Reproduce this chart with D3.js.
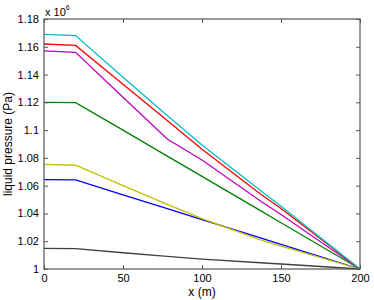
<!DOCTYPE html>
<html>
<head>
<meta charset="utf-8">
<script src="https://cdn.jsdelivr.net/npm/d3@7"></script>
<style>
  body { margin: 0; background: #fff; }
  text { font-family: "Liberation Sans", Arial, sans-serif; fill: #000; }
</style>
</head>
<body>
<script>
var w = 374;
var h = 300;

// x positions (m) shared by all curves
var xs = [0, 20, 50, 78, 100, 137, 150, 200];

// liquid pressure (x 10^6 Pa)
var blackP   = [1.0149, 1.0146, 1.0117, 1.0091, 1.0071, 1.0045, 1.0036, 1.0];
var blueP    = [1.0643, 1.0641, 1.0534, 1.0434, 1.0356, 1.0224, 1.0178, 1.0];
var yellowP  = [1.0754, 1.0747, 1.0600, 1.0466, 1.0362, 1.0210, 1.0165, 1.0];
var greenP   = [1.1200, 1.1198, 1.1000, 1.0813, 1.0667, 1.0420, 1.0333, 1.0];
var magentaP = [1.1570, 1.1560, 1.1237, 1.0936, 1.0785, 1.0490, 1.0392, 1.0];
var redP     = [1.1620, 1.1610, 1.1330, 1.1070, 1.0862, 1.0540, 1.0435, 1.0];
var cyanP    = [1.1690, 1.1681, 1.1380, 1.1106, 1.0893, 1.0566, 1.0451, 1.0];

var xTicks = [0, 50, 100, 150, 200];
var yTicks = [1, 1.02, 1.04, 1.06, 1.08, 1.1, 1.12, 1.14, 1.16, 1.18];

var series = [
  {color: "#404040", values: blackP},
  {color: "#0000ff", values: blueP},
  {color: "#bfbf00", values: yellowP},
  {color: "#008000", values: greenP},
  {color: "#bf00bf", values: magentaP},
  {color: "#ff0000", values: redP},
  {color: "#00bfbf", values: cyanP}
];

var margin = {top: 19, right: 14, bottom: 31, left: 44};
var iw = w - margin.left - margin.right;
var ih = h - margin.top - margin.bottom;

var svg = d3.select("body")
            .append("svg")
            .attr("width", w)
            .attr("height", h);

var g = svg.append("g")
           .attr("transform", "translate(" + margin.left + "," + margin.top + ")");

var x = d3.scaleLinear().domain([0, 200]).range([0, iw]);
var y = d3.scaleLinear().domain([1, 1.18]).range([ih, 0]);

//curves
var line = d3.line()
  .x(function(d, i) { return x(xs[i]); })
  .y(function(d) { return y(d); });

g.selectAll("path.curve")
  .data(series)
  .enter()
  .append("path")
  .attr("class", "curve")
  .attr("d", function(d) { return line(d.values); })
  .style("fill", "none")
  .style("stroke", function(d) { return d.color; })
  .style("stroke-width", 1.3);

//axes, matlab style box with inward ticks
function styleAxis(sel) {
  sel.select(".domain").remove();
  sel.selectAll("line").style("stroke", "#555");
  sel.selectAll("text")
     .style("font-size", "11px")
     .style("font-family", "Liberation Sans, Arial, sans-serif");
}

var fmt = function(d) { return d3.format("")(+d.toFixed(2)); };

g.append("g")
  .attr("transform", "translate(0," + ih + ")")
  .call(d3.axisBottom(x).tickValues(xTicks).tickSizeInner(-4).tickSizeOuter(0).tickPadding(5))
  .call(styleAxis);

g.append("g")
  .call(d3.axisTop(x).tickValues(xTicks).tickSizeInner(-4).tickSizeOuter(0).tickFormat(""))
  .call(styleAxis);

g.append("g")
  .call(d3.axisLeft(y).tickValues(yTicks).tickSizeInner(-4).tickSizeOuter(0).tickPadding(5).tickFormat(fmt))
  .call(styleAxis);

g.append("g")
  .attr("transform", "translate(" + iw + ",0)")
  .call(d3.axisRight(y).tickValues(yTicks).tickSizeInner(-4).tickSizeOuter(0).tickFormat(""))
  .call(styleAxis);

g.append("rect")
  .attr("width", iw)
  .attr("height", ih)
  .style("fill", "none")
  .style("stroke", "#555")
  .style("stroke-width", 1.2);

//labels
svg.append("text")
  .attr("x", margin.left + iw / 2)
  .attr("y", 296)
  .attr("text-anchor", "middle")
  .style("font-size", "12px")
  .text("x (m)");

svg.append("text")
  .attr("transform", "translate(12," + (margin.top + ih / 2) + ") rotate(-90)")
  .attr("text-anchor", "middle")
  .style("font-size", "12px")
  .text("liquid pressure (Pa)");

var exp = svg.append("text")
  .attr("x", 45)
  .attr("y", 16)
  .style("font-size", "11px");
exp.append("tspan").text("x 10");
exp.append("tspan")
  .attr("dy", -6)
  .style("font-size", "7px")
  .text("6");
</script>
</body>
</html>
